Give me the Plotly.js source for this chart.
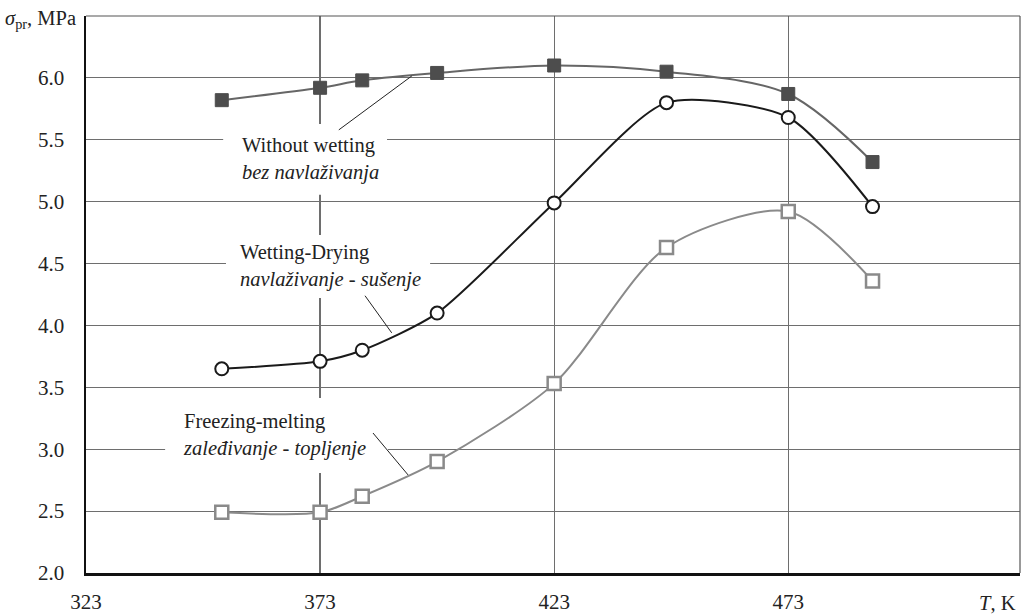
<!DOCTYPE html>
<html>
<head>
<meta charset="utf-8">
<script src="https://cdn.plot.ly/plotly-3.0.1.min.js"></script>
<style>html,body{margin:0;padding:0;background:#fff;}#chart{width:1021px;height:615px;}</style>
</head>
<body>
<div id="chart"></div>
<script>
// Temperature T, K
const temps = [352, 373, 382, 398, 423, 447, 473, 491];
// Strength sigma_pr, MPa
const withoutWetting = [5.82, 5.92, 5.98, 6.04, 6.10, 6.05, 5.87, 5.32];
const wettingDrying = [3.65, 3.71, 3.80, 4.10, 4.99, 5.80, 5.68, 4.96];
const freezingMelting = [2.49, 2.49, 2.62, 2.90, 3.53, 4.63, 4.92, 4.36];
const xTicks = [323, 373, 423, 473];
const yTicks = [2.0, 2.5, 3.0, 3.5, 4.0, 4.5, 5.0, 5.5, 6.0];
const seriesNames = ["Without wetting", "Wetting-Drying", "Freezing-melting"];

const FONT = 'Liberation Serif';

const traces = [
  {
    x: temps, y: withoutWetting, name: seriesNames[0], type: "scatter", mode: "lines+markers",
    line: {color: "#666666", width: 2, shape: "spline", smoothing: 0.9},
    marker: {symbol: "square", size: 13, color: "#4d4d4d", line: {color: "#4d4d4d", width: 1}}
  },
  {
    x: temps, y: wettingDrying, name: seriesNames[1], type: "scatter", mode: "lines+markers",
    line: {color: "#1a1a1a", width: 2, shape: "spline", smoothing: 0.7},
    marker: {symbol: "circle", size: 13, color: "#ffffff", line: {color: "#1a1a1a", width: 2}}
  },
  {
    x: temps, y: freezingMelting, name: seriesNames[2], type: "scatter", mode: "lines+markers",
    line: {color: "#8a8a8a", width: 2, shape: "spline", smoothing: 0.8},
    marker: {symbol: "square", size: 13, color: "#ffffff", line: {color: "#8a8a8a", width: 2.5}}
  }
];

const gridColor = "#6e6e6e";
const shapes = [
  {type: "rect", layer: "between", xref: "x", yref: "y", x0: 352.3, x1: 387.3, y0: 5.055, y1: 5.628, fillcolor: "#fff", line: {width: 0}},
  {type: "rect", layer: "between", xref: "x", yref: "y", x0: 352.9, x1: 396.5, y0: 4.222, y1: 4.731, fillcolor: "#fff", line: {width: 0}},
  {type: "rect", layer: "between", xref: "x", yref: "y", x0: 339.9, x1: 387.5, y0: 2.808, y1: 3.414, fillcolor: "#fff", line: {width: 0}},
  {type: "line", layer: "above", xref: "x", yref: "y", x0: 377.0, y0: 5.58, x1: 392.6, y1: 6.016, line: {color: "#222", width: 1}},
  {type: "line", layer: "above", xref: "x", yref: "y", x0: 382.6, y0: 4.24, x1: 388.3, y1: 3.94, line: {color: "#222", width: 1}},
  {type: "line", layer: "above", xref: "x", yref: "y", x0: 384.3, y0: 3.131, x1: 391.8, y1: 2.792, line: {color: "#222", width: 1}},
  {type: "line", layer: "above", xref: "paper", yref: "paper", x0: 0, y0: 1, x1: 1, y1: 1, line: {color: "#555", width: 1.2}},
  {type: "line", layer: "above", xref: "paper", yref: "paper", x0: 1, y0: 0, x1: 1, y1: 1, line: {color: "#555", width: 1.2}}
];

const annFont = {family: FONT, size: 20.5, color: "#222"};
const annotations = [
  {xref: "x", yref: "y", x: 355.9, y: 5.345, xanchor: "left", yanchor: "middle", align: "left", showarrow: false,
   text: "Without wetting<br><i>bez navlaživanja</i>", font: annFont},
  {xref: "x", yref: "y", x: 355.5, y: 4.481, xanchor: "left", yanchor: "middle", align: "left", showarrow: false,
   text: "Wetting-Drying<br><i>navlaživanje - sušenje</i>", font: annFont},
  {xref: "x", yref: "y", x: 343.3, y: 3.115, xanchor: "left", yanchor: "middle", align: "left", showarrow: false,
   text: "Freezing-melting<br><i>zaleđivanje - topljenje</i>", font: annFont},
  {xref: "paper", yref: "paper", x: -0.0086, y: 0.993, xanchor: "right", yanchor: "middle", showarrow: false,
   text: "<i>σ</i><sub>pr</sub>, MPa", font: annFont},
  {xref: "paper", yref: "paper", x: 0.998, y: -0.054, xanchor: "right", yanchor: "middle", showarrow: false,
   text: "<i>T</i>, K", font: annFont}
];

const layout = {
  width: 1021, height: 615,
  margin: {l: 86, r: 1, t: 16, b: 42},
  paper_bgcolor: "#fff", plot_bgcolor: "#fff",
  showlegend: false,
  font: {family: FONT, size: 21, color: "#222"},
  xaxis: {
    range: [323, 522.5], tickvals: xTicks, ticktext: xTicks.map(String),
    showgrid: true, gridcolor: gridColor, gridwidth: 1.2,
    showline: true, linecolor: "#111", linewidth: 2.5, zeroline: false,
    ticks: "", ticklabelstandoff: 8,
    tickfont: {family: FONT, size: 21, color: "#222"}
  },
  yaxis: {
    range: [2.0, 6.5], tickvals: yTicks, ticktext: yTicks.map(v => v.toFixed(1)),
    showgrid: true, gridcolor: gridColor, gridwidth: 1.2,
    showline: true, linecolor: "#111", linewidth: 2.5, zeroline: false,
    ticks: "", ticklabelstandoff: 15,
    tickfont: {family: FONT, size: 21, color: "#222"}
  },
  shapes: shapes,
  annotations: annotations
};

Plotly.newPlot("chart", traces, layout, {displayModeBar: false, staticPlot: true});
</script>
</body>
</html>
